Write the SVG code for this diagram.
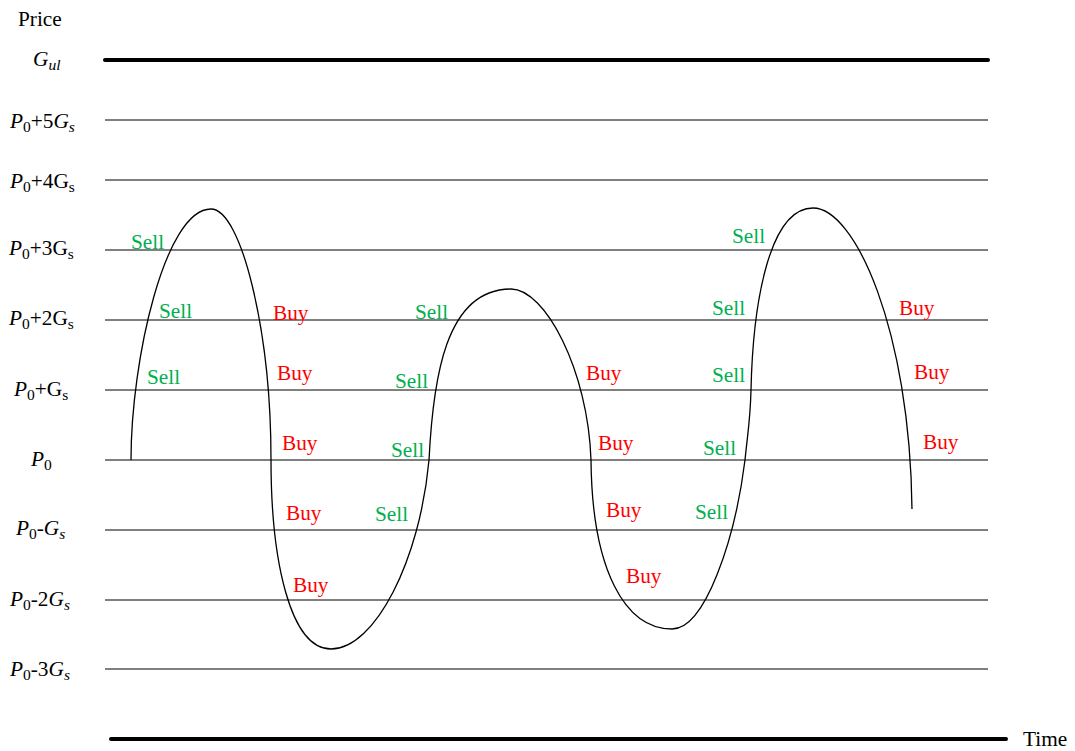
<svg xmlns="http://www.w3.org/2000/svg" width="1075" height="751" viewBox="0 0 1075 751">
<style>
text{font-family:"Liberation Serif","Times New Roman",serif;font-size:21.3px;fill:#000}
.i{font-style:italic}
.sub{font-size:15.5px}
.sell{fill:#00B050}
.buy{fill:#FF0000}
.grid{stroke:#000;stroke-width:1;fill:none}
.thick{stroke:#000;stroke-width:4;stroke-linecap:round;fill:none}
.curve{stroke:#000;stroke-width:1.3;fill:none}
</style>
<rect width="1075" height="751" fill="#fff"/>
<g id="axes">
<line class="thick" x1="105" y1="60" x2="988" y2="60"/>
<line class="thick" x1="111" y1="739" x2="1006" y2="739"/>
<text x="18" y="26">Price</text>
<text x="1023" y="746">Time</text>
</g>
<g id="grid">
<line class="grid" x1="105" y1="120" x2="988" y2="120"/>
<line class="grid" x1="105" y1="180" x2="988" y2="180"/>
<line class="grid" x1="105" y1="250" x2="988" y2="250"/>
<line class="grid" x1="105" y1="320" x2="988" y2="320"/>
<line class="grid" x1="105" y1="390" x2="988" y2="390"/>
<line class="grid" x1="105" y1="460" x2="988" y2="460"/>
<line class="grid" x1="105" y1="530" x2="988" y2="530"/>
<line class="grid" x1="105" y1="600" x2="988" y2="600"/>
<line class="grid" x1="105" y1="669" x2="988" y2="669"/>
</g>
<g id="labels">
<text x="33" y="66"><tspan class="i">G</tspan><tspan class="i sub" dy="4">ul</tspan></text>
<text x="10" y="128"><tspan class="i">P</tspan><tspan class="sub" dy="4">0</tspan><tspan dy="-4">+5</tspan><tspan class="i">G</tspan><tspan class="i sub" dy="4">s</tspan></text>
<text x="10" y="188"><tspan class="i">P</tspan><tspan class="sub" dy="4">0</tspan><tspan dy="-4">+4G</tspan><tspan class="sub" dy="4">s</tspan></text>
<text x="9" y="255"><tspan class="i">P</tspan><tspan class="sub" dy="4">0</tspan><tspan dy="-4">+3G</tspan><tspan class="sub" dy="4">s</tspan></text>
<text x="9" y="325"><tspan class="i">P</tspan><tspan class="sub" dy="4">0</tspan><tspan dy="-4">+2G</tspan><tspan class="sub" dy="4">s</tspan></text>
<text x="14" y="396"><tspan class="i">P</tspan><tspan class="sub" dy="4">0</tspan><tspan dy="-4">+G</tspan><tspan class="sub" dy="4">s</tspan></text>
<text x="31" y="466"><tspan class="i">P</tspan><tspan class="sub" dy="4">0</tspan></text>
<text x="16" y="535"><tspan class="i">P</tspan><tspan class="sub" dy="4">0</tspan><tspan dy="-4">-</tspan><tspan class="i">G</tspan><tspan class="i sub" dy="4">s</tspan></text>
<text x="10" y="606"><tspan class="i">P</tspan><tspan class="sub" dy="4">0</tspan><tspan dy="-4">-2</tspan><tspan class="i">G</tspan><tspan class="i sub" dy="4">s</tspan></text>
<text x="10" y="676"><tspan class="i">P</tspan><tspan class="sub" dy="4">0</tspan><tspan dy="-4">-3</tspan><tspan class="i">G</tspan><tspan class="i sub" dy="4">s</tspan></text>
</g>
<g id="connectors">
<path class="curve" d="M131,460 C131,360 165,209 211,209 C241,209 271,330 271,460 C271,560 290,649 331,649 C375,649 420,560 429,460 C433,380 445,289 511,289 C545,289 588,370 591,460 C592,570 625,629 672,629 C705,629 735,540 745,460 C748,430 750.3,420 751,390 C753,300 770,208 813,208 C855,208 910,330 912,509"/>
</g>
<g id="signals">
<text class="sell" x="131" y="249">Sell</text>
<text class="sell" x="159" y="318">Sell</text>
<text class="sell" x="147" y="384">Sell</text>
<text class="buy" x="273" y="320">Buy</text>
<text class="buy" x="277" y="380">Buy</text>
<text class="buy" x="282" y="450">Buy</text>
<text class="buy" x="286" y="520">Buy</text>
<text class="buy" x="293" y="592">Buy</text>
<text class="sell" x="415" y="319">Sell</text>
<text class="sell" x="395" y="388">Sell</text>
<text class="sell" x="391" y="457">Sell</text>
<text class="sell" x="375" y="521">Sell</text>
<text class="buy" x="586" y="380">Buy</text>
<text class="buy" x="598" y="450">Buy</text>
<text class="buy" x="606" y="517">Buy</text>
<text class="buy" x="626" y="583">Buy</text>
<text class="sell" x="732" y="243">Sell</text>
<text class="sell" x="712" y="315">Sell</text>
<text class="sell" x="712" y="382">Sell</text>
<text class="sell" x="703" y="455">Sell</text>
<text class="sell" x="695" y="519">Sell</text>
<text class="buy" x="899" y="315">Buy</text>
<text class="buy" x="914" y="379">Buy</text>
<text class="buy" x="923" y="449">Buy</text>
</g>
</svg>
